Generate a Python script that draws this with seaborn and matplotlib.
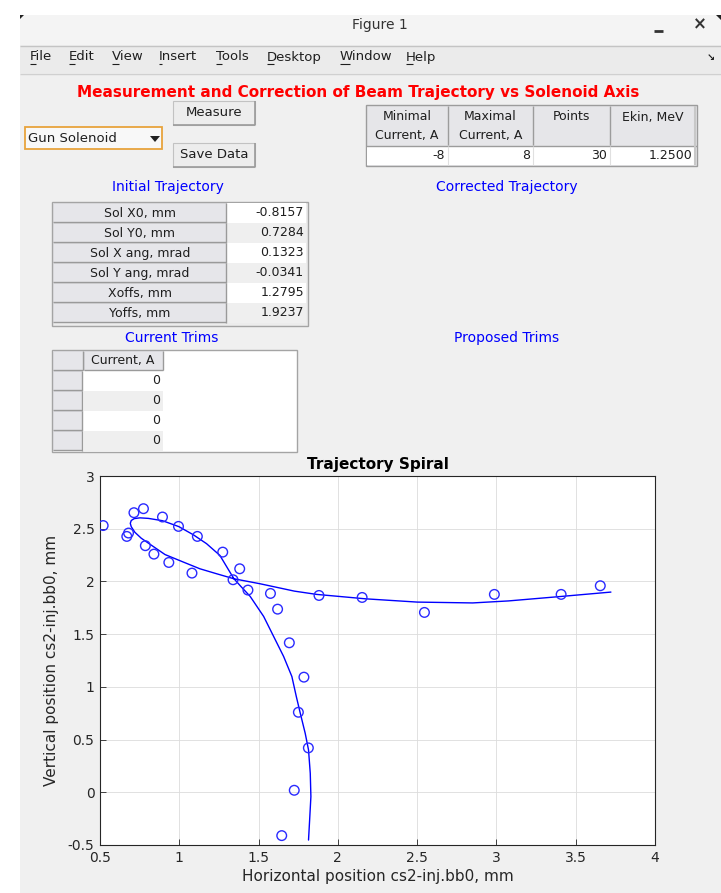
import numpy as np
import pandas as pd
import matplotlib
matplotlib.use("Agg")
import matplotlib.pyplot as plt
from matplotlib.patches import Rectangle, Polygon
from matplotlib.ticker import FixedLocator, FuncFormatter
import seaborn as sns

# ---------------- data ----------------
meas_x = [0.52, 0.669, 0.68, 0.714, 0.774, 0.894, 0.995, 1.114, 1.274, 1.381,
          1.339, 1.433, 1.575, 1.620, 1.694, 0.786, 0.840, 0.934, 1.080, 1.881,
          2.153, 2.546, 2.987, 3.408, 3.655, 1.786, 1.751, 1.814, 1.725, 1.646]
meas_y = [2.53, 2.427, 2.459, 2.652, 2.690, 2.611, 2.522, 2.427, 2.278, 2.120,
          2.016, 1.918, 1.886, 1.737, 1.418, 2.339, 2.259, 2.180, 2.079, 1.867,
          1.848, 1.706, 1.877, 1.877, 1.959, 1.092, 0.759, 0.421, 0.019, -0.411]

fit_x = [1.815, 1.822, 1.830, 1.826, 1.815, 1.794, 1.763, 1.738, 1.710, 1.658,
         1.595, 1.532, 1.447, 1.390, 1.345, 1.319, 1.256, 1.172, 1.088, 0.997,
         0.894, 0.805, 0.752, 0.716, 0.697, 0.691, 0.697, 0.720, 0.760, 0.810,
         0.910, 1.025, 1.130, 1.235, 1.345, 1.509, 1.726, 1.866, 2.175, 2.501,
         2.850, 3.075, 3.412, 3.722]
fit_y = [-0.453, -0.263, -0.041, 0.180, 0.402, 0.560, 0.750, 0.908, 1.098, 1.288,
         1.478, 1.668, 1.858, 1.950, 2.025, 2.089, 2.247, 2.358, 2.443, 2.520,
         2.576, 2.598, 2.603, 2.596, 2.578, 2.551, 2.519, 2.466, 2.410, 2.358,
         2.255, 2.184, 2.120, 2.073, 2.025, 1.978, 1.908, 1.877, 1.835, 1.804,
         1.796, 1.815, 1.858, 1.899]

x_ticks = [0.5, 1, 1.5, 2, 2.5, 3, 3.5, 4]
y_ticks = [-0.5, 0, 0.5, 1, 1.5, 2, 2.5, 3]

menu_items = ["File", "Edit", "View", "Insert", "Tools", "Desktop", "Window", "Help"]
menu_x = [30, 69, 112, 159, 216, 267, 340, 406]

top_headers = ["Minimal\nCurrent, A", "Maximal\nCurrent, A", "Points", "Ekin, MeV"]
top_values = ["-8", "8", "30", "1.2500"]

init_labels = ["Sol X0, mm", "Sol Y0, mm", "Sol X ang, mrad", "Sol Y ang, mrad",
               "Xoffs, mm", "Yoffs, mm"]
init_values = ["-0.8157", "0.7284", "0.1323", "-0.0341", "1.2795", "1.9237"]

trim_values = ["0", "0", "0", "0"]

# ---------------- figure ----------------
sns.set_style("white")
plt.rcParams['font.family'] = ['DejaVu Sans']
W, H = 721, 893
fig = plt.figure(figsize=(W / 100, H / 100), dpi=100, facecolor="white")

bg = fig.add_axes([0, 0, 1, 1])
bg.set_xlim(0, W)
bg.set_ylim(H, 0)
bg.axis("off")

TXT = "#1e1e1e"


def rect(x0, y0, x1, y1, fc, ec="none", lw=0.8, z=1):
    bg.add_patch(Rectangle((x0, y0), x1 - x0, y1 - y0, facecolor=fc,
                           edgecolor=ec, linewidth=lw, zorder=z))


def hline(x0, x1, y, c, lw=1, z=2):
    bg.plot([x0, x1], [y, y], color=c, lw=lw, zorder=z, solid_capstyle="butt")


def vline(x, y0, y1, c, lw=1, z=2):
    bg.plot([x, x], [y0, y1], color=c, lw=lw, zorder=z, solid_capstyle="butt")


# window
rect(20, 15, W, H, "#f0f0f0")
rect(20, 15, W, 45, "#f4f4f4")
hline(20, W, 45.5, "#c4c4c4", 1)
rect(20, 46, W, 73, "#ebebeb")
hline(20, W, 73.5, "#d0d0d0", 1)
bg.add_patch(Polygon([[20, 15], [24, 15], [20, 19]], closed=True, fc="#222222", ec="none", zorder=3))
bg.add_patch(Polygon([[716, 15], [721, 15], [721, 20]], closed=True, fc="#222222", ec="none", zorder=3))

bg.text(380, 25, "Figure 1", ha="center", va="center", fontsize=10, color="#333333", zorder=3)
hline(654, 663, 31, "#333333", 2)
bg.text(700, 24, "\u00d7", ha="center", va="center", fontsize=12, fontweight="bold",
        color="#333333", zorder=3)

underline_w = {"File": 6, "Edit": 6, "View": 7, "Insert": 3, "Tools": 6,
               "Desktop": 7, "Window": 10, "Help": 7}
for name, x in zip(menu_items, menu_x):
    bg.text(x, 57, name, ha="left", va="center", fontsize=9.5, color=TXT, zorder=3)
    hline(x, x + underline_w[name], 63.5, TXT, 0.8)
bg.text(711, 58, "\u2198", ha="center", va="center", fontsize=7, fontweight="bold",
        color=TXT, zorder=3)

# title
bg.text(358, 92, "Measurement and Correction of Beam Trajectory vs Solenoid Axis",
        ha="center", va="center", fontsize=11, fontweight="bold", color="#ff0000", zorder=3)


def button(x0, y0, x1, y1, label):
    rect(x0, y0, x1, y1, "#ededed", "#c2c2c2", 0.8, z=2)
    hline(x0, x1, y1, "#9a9a9a", 1.2, z=3)
    vline(x1, y0, y1, "#9a9a9a", 1.2, z=3)
    bg.text((x0 + x1) / 2, (y0 + y1) / 2, label, ha="center", va="center",
            fontsize=9.5, color=TXT, zorder=4)


button(173, 101, 255, 125, "Measure")
button(173, 143, 255, 167, "Save Data")

# dropdown
rect(25, 127, 162, 149, "#f8f8f8", "#e8a33c", 1.3, z=2)
bg.text(28, 138.5, "Gun Solenoid", ha="left", va="center", fontsize=9.5, color=TXT, zorder=3)
bg.add_patch(Polygon([[150, 136], [160, 136], [155, 142]], closed=True, fc="#222222",
                     ec="none", zorder=3))

# top-right table
rect(366, 105, 697, 166, "#e6e6e9", "#9c9c9c", 1.0, z=2)
rect(367, 146, 695, 165, "white", z=2)
hline(366, 697, 145.5, "#9c9c9c", 1.0, z=3)
col_edges = [366, 448, 533, 610, 695]
for xe in col_edges[1:-1]:
    vline(xe, 106, 145, "#9c9c9c", 1.0, z=3)
    vline(xe, 146, 165, "#e0e0e0", 0.8, z=3)
vline(695, 106, 165, "#c8c8c8", 1.5, z=3)
for i, (h, v) in enumerate(zip(top_headers, top_values)):
    cx = (col_edges[i] + col_edges[i + 1]) / 2
    lines = h.split("\n")
    for j, ln in enumerate(lines):
        bg.text(cx, 117 + 18 * j, ln, ha="center", va="center", fontsize=9, color=TXT, zorder=4)
    bg.text(col_edges[i + 1] - 3, 155.5, v, ha="right", va="center", fontsize=9,
            color=TXT, zorder=4)

# section labels
BLUE = "#0000ff"
bg.text(168, 187, "Initial Trajectory", ha="center", va="center", fontsize=10, color=BLUE, zorder=3)
bg.text(507, 187, "Corrected Trajectory", ha="center", va="center", fontsize=10, color=BLUE, zorder=3)
bg.text(172, 338, "Current Trims", ha="center", va="center", fontsize=10, color=BLUE, zorder=3)
bg.text(507, 338, "Proposed Trims", ha="center", va="center", fontsize=10, color=BLUE, zorder=3)

# initial trajectory table
rect(52, 202, 308, 326, "#ececec", "#a4a4a4", 1.0, z=2)
for i, (lab, val) in enumerate(zip(init_labels, init_values)):
    y0 = 203 + 20 * i
    rect(53, y0, 226, y0 + 19, "#e6e6ea", "#d4d4d8", 0.6, z=3)
    hline(53, 226, y0 + 19.3, "#9a9a9a", 1.0, z=4)
    vline(226, y0, y0 + 19.5, "#9a9a9a", 1.0, z=4)
    rect(227, y0, 306, y0 + 20, "white" if i % 2 == 0 else "#efefef", z=3)
    bg.text(140, y0 + 10, lab, ha="center", va="center", fontsize=9, color=TXT, zorder=5)
    bg.text(304, y0 + 10, val, ha="right", va="center", fontsize=9, color=TXT, zorder=5)

# current trims table
rect(52, 350, 297, 452, "white", "#a4a4a4", 1.0, z=2)
rect(53, 351, 83, 370, "#e6e6ea", "#d4d4d8", 0.6, z=3)
hline(53, 83, 370, "#9a9a9a", 1.0, z=4)
vline(83, 351, 370, "#9a9a9a", 1.0, z=4)
rect(84, 351, 163, 370, "#e6e6ea", "#d4d4d8", 0.6, z=3)
hline(84, 163, 370, "#9a9a9a", 1.0, z=4)
vline(163, 351, 370, "#9a9a9a", 1.0, z=4)
bg.text(123, 360.5, "Current, A", ha="center", va="center", fontsize=9, color=TXT, zorder=5)
for i, v in enumerate(trim_values):
    y0 = 371 + 20 * i
    rect(53, y0, 82, y0 + 19, "#e6e6ea", "#d4d4d8", 0.6, z=3)
    hline(53, 82, y0 + 19.3, "#9a9a9a", 1.0, z=4)
    vline(82, y0, y0 + 19.5, "#9a9a9a", 1.0, z=4)
    rect(84, y0, 163, y0 + 20, "white" if i % 2 == 0 else "#efefef", z=3)
    bg.text(160, y0 + 10, v, ha="right", va="center", fontsize=9, color=TXT, zorder=5)

# ---------------- plot ----------------
ax = fig.add_axes([100 / W, (H - 845) / H, 555 / W, 369 / H])
ax.set_facecolor("white")

df_fit = pd.DataFrame({"x": fit_x, "y": fit_y})
df_meas = pd.DataFrame({"x": meas_x, "y": meas_y})

sns.lineplot(data=df_fit, x="x", y="y", sort=False, estimator=None,
             color="#0000ff", lw=1.0, ax=ax, zorder=3)
sns.scatterplot(data=df_meas, x="x", y="y", marker="o", s=48, linewidth=1.0,
                ax=ax, zorder=4)
coll = ax.collections[-1]
coll.set_facecolor("none")
coll.set_edgecolor("#2a2aff")

ax.set_xlim(0.5, 4)
ax.set_ylim(-0.5, 3)
ax.xaxis.set_major_locator(FixedLocator(x_ticks))
ax.yaxis.set_major_locator(FixedLocator(y_ticks))
fmt = FuncFormatter(lambda v, p: "%g" % v)
ax.xaxis.set_major_formatter(fmt)
ax.yaxis.set_major_formatter(fmt)
ax.grid(True, color="#dcdcdc", lw=0.6)
ax.set_axisbelow(True)
for sp in ax.spines.values():
    sp.set_visible(True)
    sp.set_color("#262626")
    sp.set_linewidth(0.8)
ax.tick_params(direction="in", length=4, width=0.6, colors="#262626",
               labelsize=10, top=False, right=False, left=True, bottom=True, pad=4)
ax.set_title("Trajectory Spiral", fontsize=11, fontweight="bold", color="#000000", pad=5)
ax.set_xlabel("Horizontal position cs2-inj.bb0, mm", fontsize=11, color="#262626", labelpad=3)
ax.set_ylabel("Vertical position cs2-inj.bb0, mm", fontsize=11, color="#262626", labelpad=6)

fig.savefig("out.png", dpi=100, facecolor="white")
